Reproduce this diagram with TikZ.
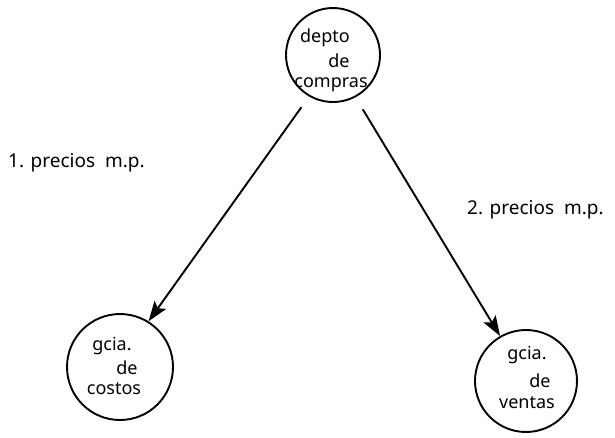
\documentclass[tikz,border=0pt]{standalone}
\usepackage{fontspec}
\setmainfont{Noto Sans}
\usetikzlibrary{arrows.meta}
\begin{document}
\begin{tikzpicture}[x=1pt,y=-1pt,
  unit/.style={circle, draw, line width=1.9pt, minimum size=#1, inner sep=0pt},
  hand/.style={font=\fontsize{18}{18}\selectfont, inner sep=0pt, anchor=center},
  flow/.style={line width=1.9pt, -{Stealth[length=20pt,width=14pt,inset=4pt]}},
  lbl/.style={font=\fontsize{19}{19}\selectfont, inner sep=0pt, anchor=west}]
  \useasboundingbox (0,0) rectangle (615,437);

  % departments
  \node[unit=94pt]  (compras) at (333,55) {};
  \node[unit=106pt] (costos)  at (120,367) {};
  \node[unit=102pt] (ventas)  at (526,381) {};

  % captions inside the circles
  \node[hand] (c1) at (325,38) {depto};
  \node[hand] (c2) at (339,61) {de};
  \node[hand] (c3) at (331,85) {compras};

  \node[hand] (k1) at (112,346) {gcia.};
  \node[hand] (k2) at (127,368) {de};
  \node[hand] (k3) at (114,389) {costos};

  \node[hand] (v1) at (527,355) {gcia.};
  \node[hand] (v2) at (540,381) {de};
  \node[hand] (v3) at (527,403) {ventas};

  % flows of purchase prices
  \draw[flow, shorten <=13pt] (compras.240) -- (costos.58);
  \draw[flow, shorten <=14pt] (compras.298) -- (ventas.120);

  % flow labels
  \node[lbl] (p1) at (8,163) {1. precios \ m.p.};
  \node[lbl] (p2) at (467,210) {2. precios \ m.p.};
\end{tikzpicture}
\end{document}
